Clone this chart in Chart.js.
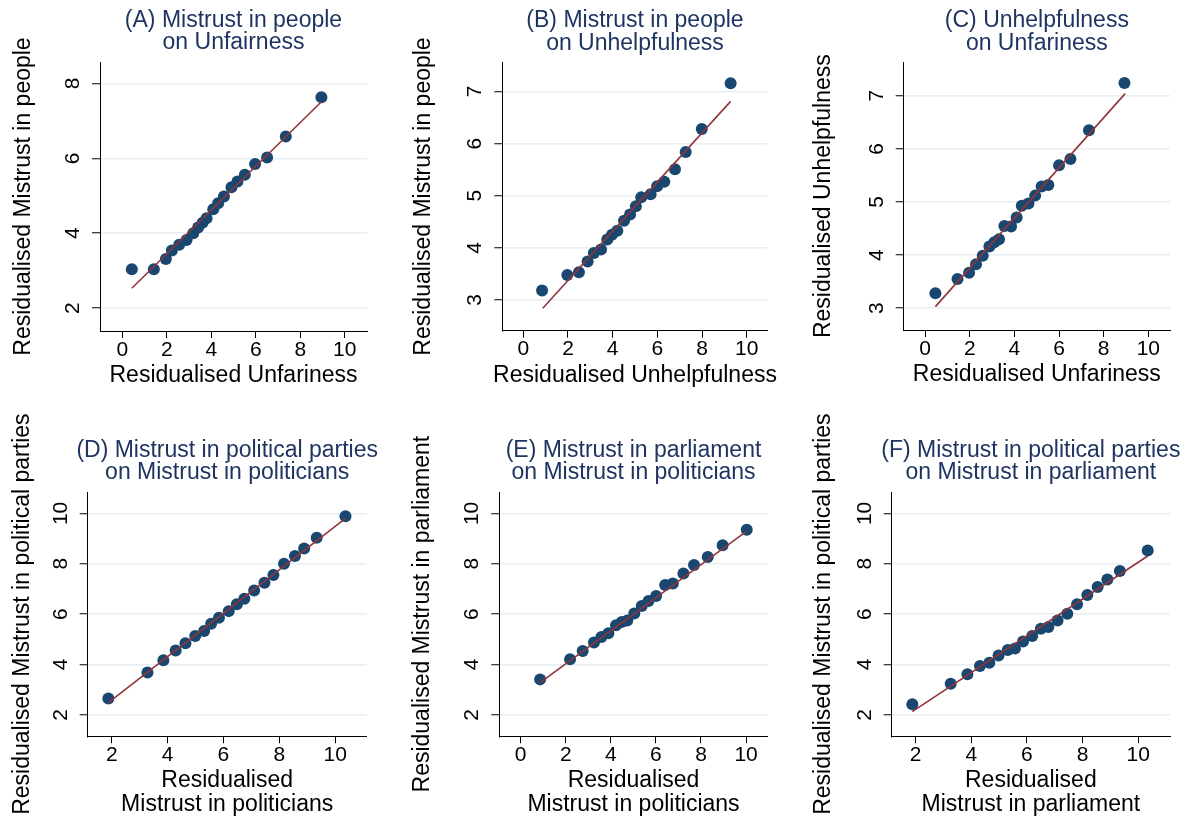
<!DOCTYPE html>
<html><head><meta charset="utf-8">
<script src="https://cdn.jsdelivr.net/npm/chart.js@4.4.1/dist/chart.umd.min.js"></script>
<style>
html,body{margin:0;padding:0;background:#fff;}
#wrap{position:relative;width:1195px;height:821px;overflow:hidden;background:#fff;}
#wrap canvas{position:absolute;left:0;top:0;}
</style></head><body><div id="wrap"></div>
<script>
// ---------- DATA ----------
const aX = [0.43,1.42,1.96,2.23,2.56,2.89,3.19,3.41,3.61,3.79,4.09,4.31,4.57,4.91,5.18,5.51,5.97,6.51,7.35,8.95];
const aY = [3.04,3.04,3.31,3.54,3.69,3.82,4.00,4.15,4.28,4.40,4.64,4.80,4.98,5.23,5.38,5.56,5.85,6.02,6.58,7.63];
const aFitX = [0.43, 8.95];
const aFitY = [2.53, 7.51];

const bX = [0.84,1.97,2.49,2.88,3.16,3.48,3.76,3.97,4.21,4.51,4.78,5.04,5.28,5.70,5.99,6.31,6.79,7.27,7.99,9.28];
const bY = [3.18,3.48,3.53,3.74,3.90,3.97,4.16,4.25,4.33,4.52,4.64,4.80,4.97,5.03,5.18,5.27,5.51,5.84,6.28,7.16];
const bFitX = [0.87, 9.28];
const bFitY = [2.84, 6.81];

const cX = [0.46,1.45,1.97,2.28,2.58,2.88,3.10,3.31,3.55,3.85,4.10,4.33,4.63,4.93,5.22,5.52,6.00,6.51,7.34,8.93];
const cY = [3.28,3.55,3.67,3.83,3.99,4.16,4.24,4.30,4.55,4.54,4.71,4.93,4.97,5.12,5.29,5.32,5.69,5.81,6.35,7.24];
const cFitX = [0.46, 8.96];
const cFitY = [3.03, 7.04];

const dX = [1.88,3.28,3.85,4.29,4.64,4.99,5.31,5.56,5.84,6.19,6.48,6.75,7.10,7.47,7.79,8.17,8.56,8.89,9.34,10.37];
const dY = [2.65,3.68,4.17,4.56,4.84,5.13,5.33,5.62,5.86,6.12,6.39,6.61,6.94,7.25,7.55,8.00,8.31,8.61,9.03,9.89];
const dFitX = [1.88, 10.37];
const dFitY = [2.49, 9.80];

const eX = [0.86,2.19,2.75,3.25,3.58,3.89,4.23,4.48,4.73,5.04,5.37,5.67,6.01,6.41,6.75,7.22,7.69,8.30,8.96,10.03];
const eY = [3.41,4.21,4.54,4.87,5.09,5.24,5.56,5.69,5.75,6.03,6.32,6.52,6.72,7.16,7.22,7.61,7.95,8.27,8.74,9.35];
const eFitX = [0.86, 10.03];
const eFitY = [3.28, 9.30];

const fX = [1.88,3.26,3.86,4.31,4.65,4.98,5.31,5.57,5.86,6.19,6.50,6.77,7.10,7.45,7.80,8.17,8.54,8.89,9.34,10.34];
const fY = [2.42,3.24,3.61,3.94,4.07,4.36,4.58,4.64,4.91,5.13,5.42,5.49,5.75,6.02,6.39,6.76,7.08,7.38,7.71,8.53];
const fFitX = [1.88, 10.34];
const fFitY = [2.13, 8.31];

// tick labels
const xTicks0to10 = [0,2,4,6,8,10];
const xTicks2to10 = [2,4,6,8,10];
const yTicksA = [2,4,6,8];
const yTicks3to7 = [3,4,5,6,7];
const yTicks2to10 = [2,4,6,8,10];

// texts
const titleA = ["(A) Mistrust in people", "on Unfairness"];
const titleB = ["(B) Mistrust in people", "on Unhelpfulness"];
const titleC = ["(C) Unhelpfulness", "on Unfariness"];
const titleD = ["(D) Mistrust in political parties", "on Mistrust in politicians"];
const titleE = ["(E) Mistrust in parliament", "on Mistrust in politicians"];
const titleF = ["(F) Mistrust in political parties", "on Mistrust in parliament"];
const xTitleA = ["Residualised Unfariness"];
const xTitleB = ["Residualised Unhelpfulness"];
const xTitleC = ["Residualised Unfariness"];
const xTitleD = ["Residualised", "Mistrust in politicians"];
const xTitleE = ["Residualised", "Mistrust in politicians"];
const xTitleF = ["Residualised", "Mistrust in parliament"];
const yTitleA = "Residualised Mistrust in people";
const yTitleB = "Residualised Mistrust in people";
const yTitleC = "Residualised Unhelpfulness";
const yTitleD = "Residualised Mistrust in political parties";
const yTitleE = "Residualised Mistrust in parliament";
const yTitleF = "Residualised Mistrust in political parties";

// ---------- STYLE / LAYOUT ----------
const W = 1195, H = 821;
const FONT = '"Liberation Sans", Arial, Helvetica, sans-serif';
const NAVY = '#1a476f';
const MAROON = '#90353b';
const TITLE_COLOR = '#1f3461';
const GRID = '#e8eef1';

const panels = [
  {x:aX, y:aY, fx:aFitX, fy:aFitY, xt:xTicks0to10, yt:yTicksA, title:titleA, xTitle:xTitleA, yTitle:yTitleA,
   plot:{l:100, r:367, t:62, b:331}, xr:[-1.0, 11.0], yr:[1.39, 8.57], yTitleOff:76, yPad:13},
  {x:bX, y:bY, fx:bFitX, fy:bFitY, xt:xTicks0to10, yt:yTicks3to7, title:titleB, xTitle:xTitleB, yTitle:yTitleB,
   plot:{l:502.3, r:767.7, t:62.3, b:330.7}, xr:[-0.94, 10.94], yr:[2.41, 7.56], yTitleOff:78.8, yPad:13},
  {x:cX, y:cY, fx:cFitX, fy:cFitY, xt:xTicks0to10, yt:yTicks3to7, title:titleC, xTitle:xTitleC, yTitle:yTitleC,
   plot:{l:903.7, r:1170, t:62.3, b:330}, xr:[-0.96, 10.97], yr:[2.59, 7.63], yTitleOff:80.2, yPad:13},
  {x:dX, y:dY, fx:dFitX, fy:dFitY, xt:xTicks2to10, yt:yTicks2to10, title:titleD, xTitle:xTitleD, yTitle:yTitleD,
   plot:{l:87.7, r:366.7, t:492, b:736.3}, xr:[1.14, 11.13], yr:[1.15, 10.85], yTitleOff:65.2, yPad:7},
  {x:eX, y:eY, fx:eFitX, fy:eFitY, xt:xTicks0to10, yt:yTicks2to10, title:titleE, xTitle:xTitleE, yTitle:yTitleE,
   plot:{l:499.3, r:767.7, t:492, b:736.3}, xr:[-0.95, 10.96], yr:[1.15, 10.85], yTitleOff:76.8, yPad:7},
  {x:fX, y:fY, fx:fFitX, fy:fFitY, xt:xTicks2to10, yt:yTicks2to10, title:titleF, xTitle:xTitleF, yTitle:yTitleF,
   plot:{l:891.7, r:1170, t:492, b:736.3}, xr:[1.14, 11.14], yr:[1.15, 10.85], yTitleOff:68.2, yPad:7}
];

const YW = 60, XH = 40;

const panelText = {
  id: 'panelText',
  afterDraw(chart, args, o) {
    const {ctx, chartArea: ca} = chart;
    ctx.save();
    ctx.textAlign = 'center';
    ctx.textBaseline = 'middle';
    ctx.font = '23px ' + FONT;
    const cx = (ca.left + ca.right) / 2;
    ctx.fillStyle = TITLE_COLOR;
    o.title.forEach((t, i) => ctx.fillText(t, cx, ca.top - 41.7 + i * 22.8));
    ctx.fillStyle = '#000';
    o.xTitle.forEach((t, i) => ctx.fillText(t, cx, ca.bottom + 44.6 + i * 23.6));
    ctx.translate(ca.left - o.yTitleOff, (ca.top + ca.bottom) / 2);
    ctx.rotate(-Math.PI / 2);
    ctx.fillText(o.yTitle, 0, 0);
    ctx.restore();
  }
};

const wrap = document.getElementById('wrap');
panels.forEach(p => {
  const cv = document.createElement('canvas');
  cv.width = W; cv.height = H;
  cv.style.width = W + 'px'; cv.style.height = H + 'px';
  wrap.appendChild(cv);
  new Chart(cv.getContext('2d'), {
    type: 'scatter',
    data: {
      datasets: [
        {
          type: 'line',
          data: p.fx.map((v, i) => ({x: v, y: p.fy[i]})),
          borderColor: MAROON, borderWidth: 1.6, pointRadius: 0, fill: false, tension: 0
        },
        {
          type: 'scatter',
          data: p.x.map((v, i) => ({x: v, y: p.y[i]})),
          backgroundColor: NAVY, borderColor: NAVY, borderWidth: 0, pointRadius: 6, pointHoverRadius: 6
        }
      ]
    },
    options: {
      responsive: false,
      animation: false,
      devicePixelRatio: 1,
      events: [],
      layout: {padding: {left: p.plot.l - YW, right: W - p.plot.r, top: p.plot.t, bottom: H - p.plot.b - XH}},
      plugins: {
        legend: {display: false},
        tooltip: {enabled: false},
        title: {display: false},
        panelText: {title: p.title, xTitle: p.xTitle, yTitle: p.yTitle, yTitleOff: p.yTitleOff}
      },
      scales: {
        x: {
          type: 'linear', position: 'bottom', min: p.xr[0], max: p.xr[1],
          afterBuildTicks: s => { s.ticks = p.xt.map(v => ({value: v})); },
          afterFit: s => { s.height = XH; },
          grid: {display: true, drawOnChartArea: false, tickLength: 7, tickColor: '#000', tickWidth: 1},
          border: {display: true, color: '#000', width: 1},
          ticks: {autoSkip: false, maxRotation: 0, minRotation: 0, padding: 1.5, color: '#000',
                  font: {family: FONT, size: 21, lineHeight: 1}}
        },
        y: {
          type: 'linear', position: 'left', min: p.yr[0], max: p.yr[1],
          afterBuildTicks: s => { s.ticks = p.yt.map(v => ({value: v})); },
          afterFit: s => { s.width = YW; },
          grid: {display: true, drawOnChartArea: true, color: GRID, lineWidth: 1.5, tickLength: 8, tickColor: '#000', tickWidth: 1},
          border: {display: true, color: '#000', width: 1},
          ticks: {autoSkip: false, minRotation: 90, maxRotation: 90, crossAlign: 'center', padding: p.yPad, color: '#000',
                  font: {family: FONT, size: 21, lineHeight: 1}}
        }
      }
    },
    plugins: [panelText]
  });
});
</script>
</body></html>
